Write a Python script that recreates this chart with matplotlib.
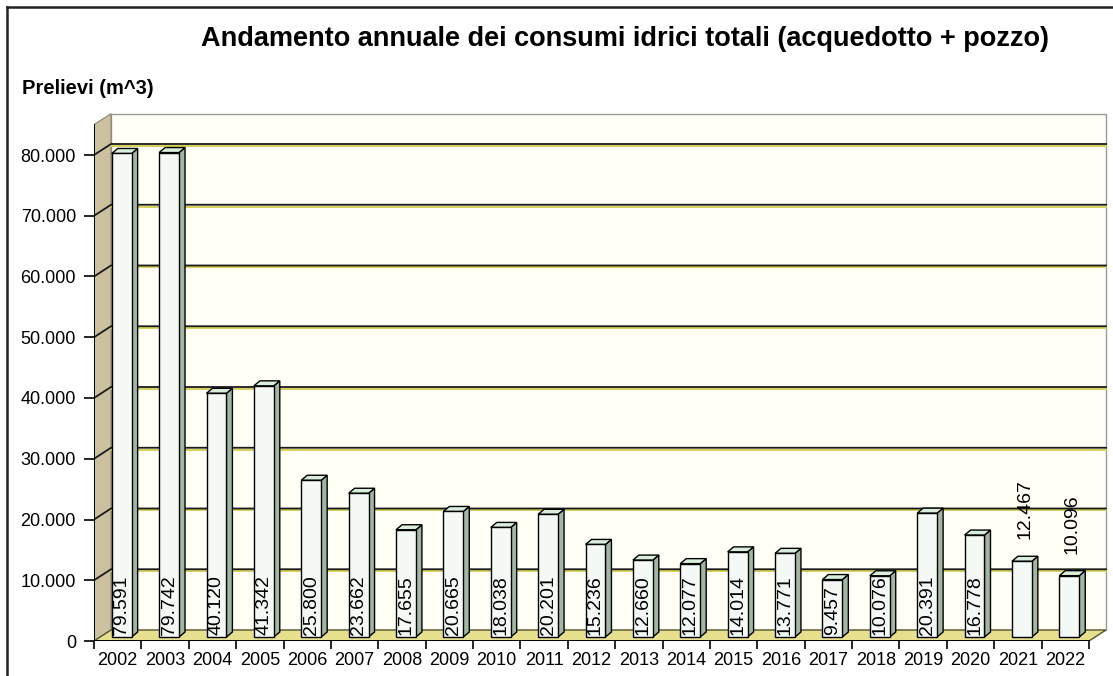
import matplotlib
matplotlib.use("Agg")
import matplotlib.pyplot as plt
from matplotlib.patches import Polygon, Rectangle
from matplotlib.lines import Line2D
import numpy as np

years = [str(y) for y in range(2002, 2023)]
values = [79591, 79742, 40120, 41342, 25800, 23662, 17655, 20665, 18038, 20201,
          15236, 12660, 12077, 14014, 13771, 9457, 10076, 20391, 16778, 12467, 10096]
labels_above = ["2021", "2022"]
yticks = list(range(0, 80001, 10000))
title = "Andamento annuale dei consumi idrici totali (acquedotto + pozzo)"
ylabel = "Prelievi (m^3)"

plt.rcParams['font.family'] = ['Liberation Sans', 'DejaVu Sans']

W, H = 1113, 676
fig = plt.figure(figsize=(W / 100, H / 100), dpi=100)

PX = 47.38          # px per category
PY = 0.006075       # px per value unit
YMAX = 85000
DXp, DYp = 17, 11   # wall depth in px
BDXp, BDYp = 4, 4   # bar offset in px
SDXp, SDYp = 6, 5   # bar depth in px

n = len(years)
left_px, bottom_px = 94, 35
ax_w_px = n * PX + DXp + 2
ax_h_px = YMAX * PY + DYp + 2
ax = fig.add_axes([left_px / W, bottom_px / H, ax_w_px / W, ax_h_px / H])
ax.set_xlim(-0.5, -0.5 + ax_w_px / PX)
ax.set_ylim(0, ax_h_px / PY)
ax.patch.set_alpha(0)

fx = 1 / PX
fy = 1 / PY
dx, dy = DXp * fx, DYp * fy
bdx, bdy = BDXp * fx, BDYp * fy
sdx, sdy = SDXp * fx, SDYp * fy
x0, x1 = -0.5, n - 0.5

# back wall
ax.add_patch(Rectangle((x0 + dx, dy), n, YMAX, facecolor='#fffff5',
                       edgecolor='#9a9a9a', lw=1, zorder=1))
# side wall
ax.add_patch(Polygon([(x0, 0), (x0, YMAX), (x0 + dx, YMAX + dy), (x0 + dx, dy)],
                     closed=True, facecolor='#cbc19f', edgecolor='#8a8470', lw=0.8, zorder=2))
# floor
ax.add_patch(Polygon([(x0, 0), (x1, 0), (x1 + dx, dy), (x0 + dx, dy)],
                     closed=True, facecolor='#e6df8e', edgecolor='#555533', lw=1, zorder=2))

# gridlines
for v in yticks[1:]:
    ax.plot([x0 + dx, x1 + dx], [v + dy - 1.8 * fy] * 2, color='#d6cf5a', lw=1.4, zorder=2.5)
    ax.plot([x0, x0 + dx, x1 + dx], [v, v + dy, v + dy], color='#1a1a1a', lw=1.3, zorder=3)

# axes lines
ax.plot([x0, x0], [0, YMAX], color='black', lw=1.4, zorder=6)
ax.plot([x0, x1], [0, 0], color='black', lw=1.4, zorder=6)

for s in ax.spines.values():
    s.set_visible(False)

# y ticks
ax.set_yticks(yticks)
ax.set_yticklabels([f"{v:,}".replace(",", ".") for v in yticks], fontsize=13)
ax.tick_params(axis='y', length=7, width=1.2, direction='out', pad=6, color='black')
# x ticks
ax.set_xticks(np.arange(n + 1) - 0.5)
ax.set_xticklabels([])
ax.set_xticks(np.arange(n), minor=True)
ax.set_xticklabels(years, minor=True, fontsize=13)
ax.tick_params(axis='x', which='major', length=6, width=1.2, direction='out', color='black')
ax.tick_params(axis='x', which='minor', length=0, pad=8)

# bars
w = 0.42
xs = np.arange(n)
ax.bar(xs + bdx, values, width=w, bottom=bdy, facecolor='#f4f9f5',
       edgecolor='black', lw=1.0, zorder=5)
for i, v in enumerate(values):
    xl = i + bdx - w / 2
    xr = i + bdx + w / 2
    top = v + bdy
    ax.add_patch(Polygon([(xr, bdy), (xr, top), (xr + sdx, top + sdy), (xr + sdx, bdy + sdy)],
                         closed=True, facecolor='#a2b6a4', edgecolor='black', lw=1.0, zorder=4.9))
    ax.add_patch(Polygon([(xl, top), (xr, top), (xr + sdx, top + sdy), (xl + sdx, top + sdy)],
                         closed=True, facecolor='#d9eedb', edgecolor='black', lw=1.0, zorder=4.9))
    txt = f"{v:,}".replace(",", ".")
    if years[i] in labels_above:
        ax.text(i + bdx + sdx / 2, top + 22 * fy, txt, rotation=90, ha='center', va='bottom',
                fontsize=14, zorder=7)
    else:
        ax.text(i + bdx, bdy + 2 * fy, txt, rotation=90, ha='center', va='bottom',
                fontsize=14, zorder=7)

# titles
fig.text(625 / W, 1 - 46 / H, title, ha='center', va='baseline', fontsize=19.5, fontweight='bold')
fig.text(22 / W, 1 - 94 / H, ylabel, ha='left', va='baseline', fontsize=14.5, fontweight='bold')

# frame
fig.add_artist(Line2D([7 / W, 7 / W], [0, 1 - 7 / H], color='#222222', lw=1.8))
fig.add_artist(Line2D([7 / W, 1], [1 - 7 / H, 1 - 7 / H], color='#222222', lw=1.8))

fig.savefig("out.png", dpi=100)
